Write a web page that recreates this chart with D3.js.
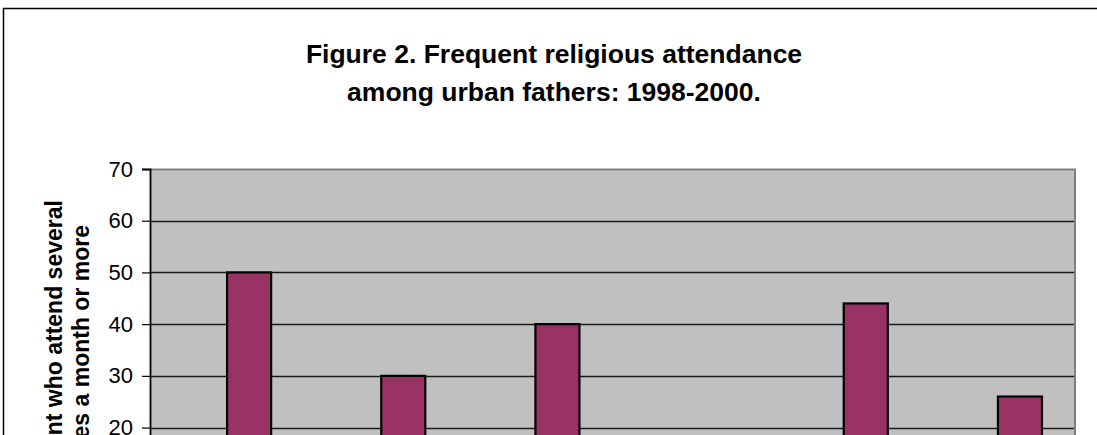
<!DOCTYPE html>
<html>
<head>
<meta charset="utf-8">
<script src="https://cdn.jsdelivr.net/npm/d3@7"></script>
<style>
  html, body { margin: 0; padding: 0; background: #fff; }
  svg { display: block; }
  text { font-family: Arial, "Liberation Sans", sans-serif; }
</style>
</head>
<body>
<svg id="chart" width="1097" height="435"></svg>
<script>
// ---- data (x-axis category labels lie below the visible crop) ----
const categories = ["1", "2", "3", "4", "5", "6"];
const seriesNames = ["series 1", "urban fathers"];
const fatherValues = [50, 30, 40, null, 44, 26];
const yTicks = [0, 10, 20, 30, 40, 50, 60, 70];
const titleLines = ["Figure 2. Frequent religious attendance", "among urban fathers: 1998-2000."];
const yTitleLines = ["Percent who attend several", "times a month or more"];

const svg = d3.select("#chart");
const plot = { left: 150, top: 169, right: 1075, bottom: 531 };

// outer chart frame
svg.append("rect")
  .attr("x", 3.5).attr("y", 8.5)
  .attr("width", 1110).attr("height", 600)
  .attr("fill", "#fff").attr("stroke", "#000").attr("stroke-width", 1.5);

// title
svg.append("text")
  .attr("x", 554).attr("y", 63)
  .attr("text-anchor", "middle")
  .attr("font-size", 26.5).attr("font-weight", "bold")
  .selectAll("tspan").data(titleLines).join("tspan")
  .attr("x", 554)
  .attr("dy", (d, i) => i === 0 ? 0 : 38)
  .text(d => d);

const y = d3.scaleLinear().domain([0, 70]).range([plot.bottom, plot.top]);
const x0 = d3.scaleBand().domain(categories).range([plot.left, plot.right]).padding(0);
const x1 = d3.scaleBand().domain(seriesNames).range([0, x0.bandwidth()])
  .paddingInner(0).paddingOuter(0.75);

// plot background
svg.append("rect")
  .attr("x", plot.left).attr("y", plot.top)
  .attr("width", plot.right - plot.left).attr("height", plot.bottom - plot.top)
  .attr("fill", "#c0c0c0");

// gridlines
svg.append("g").selectAll("line").data(yTicks.filter(t => t > 0 && t < 70)).join("line")
  .attr("x1", plot.left).attr("x2", plot.right)
  .attr("y1", d => Math.round(y(d)) + 0.5).attr("y2", d => Math.round(y(d)) + 0.5)
  .attr("stroke", "#1a1a1a").attr("stroke-width", 1.3);

// plot border top/right (gray)
svg.append("path")
  .attr("d", `M${plot.left},${plot.top + 0.5}H${plot.right}V${plot.bottom}`)
  .attr("fill", "none").attr("stroke", "#808080").attr("stroke-width", 2);

// bars
svg.append("g").selectAll("rect")
  .data(categories.map((c, i) => ({ c, v: fatherValues[i] })).filter(d => d.v != null))
  .join("rect")
  .attr("x", d => x0(d.c) + x1("urban fathers"))
  .attr("y", d => y(d.v))
  .attr("width", x1.bandwidth())
  .attr("height", d => y(0) - y(d.v))
  .attr("fill", "#993366")
  .attr("stroke", "#000").attr("stroke-width", 2.2);

// y axis
const yAxis = d3.axisLeft(y).tickValues(yTicks).tickSize(8).tickPadding(9);
const gy = svg.append("g").attr("transform", `translate(${plot.left},0)`).call(yAxis);
gy.attr("font-size", 22).attr("font-family", "Arial, 'Liberation Sans', sans-serif");
gy.select(".domain").attr("stroke", "#000").attr("stroke-width", 1.8);
gy.selectAll(".tick line").attr("stroke", "#000").attr("stroke-width", 1.2);
gy.selectAll(".tick text").attr("font-size", 22).attr("fill", "#000");

// x axis (labels fall below the visible crop)
const xAxis = d3.axisBottom(x0).tickSize(0);
const gx = svg.append("g").attr("transform", `translate(0,${plot.bottom})`).call(xAxis);
gx.select(".domain").attr("stroke", "#000");

// y axis title
const yc = 349;
svg.append("text")
  .attr("transform", `translate(62,${yc}) rotate(-90)`)
  .attr("text-anchor", "middle")
  .attr("font-size", 23).attr("font-weight", "bold")
  .selectAll("tspan").data(yTitleLines).join("tspan")
  .attr("x", 0)
  .attr("dy", (d, i) => i === 0 ? 0 : 27)
  .text(d => d);
</script>
</body>
</html>
